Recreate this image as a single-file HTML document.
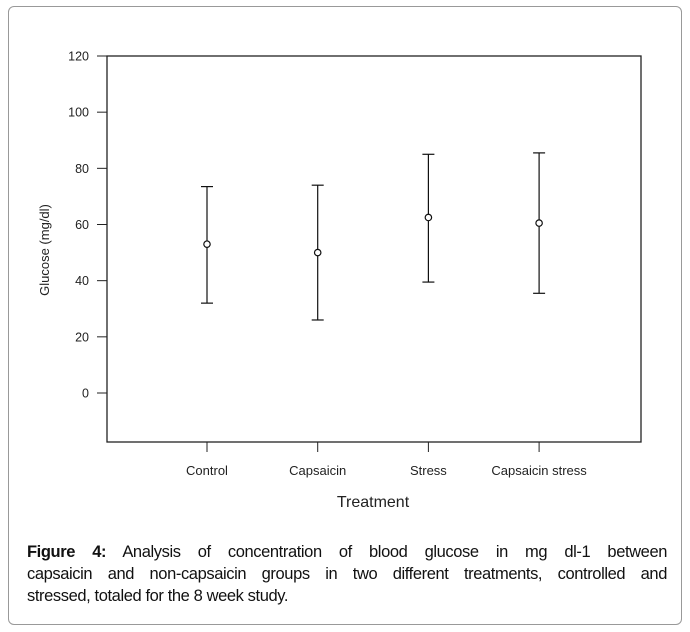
<!DOCTYPE html>
<html><head><meta charset="utf-8"><style>
body{margin:0;width:690px;height:632px;background:#fff;font-family:"Liberation Sans",sans-serif;overflow:hidden}
#frame{position:absolute;left:8px;top:6px;width:672px;height:617px;border:1px solid #999;border-radius:6px}
#cap{position:absolute;left:27px;top:541px;width:640px;font-size:16.5px;line-height:22px;color:#111;letter-spacing:-0.4px}
#cap .j{display:block;white-space:nowrap;text-align:justify;text-align-last:justify}
#cap .l{display:block;white-space:nowrap}
</style></head><body>
<div id="frame"></div>
<svg id="chart" width="690" height="540" style="position:absolute;left:0;top:0" font-family="Liberation Sans, sans-serif"></svg>
<div id="cap"><span class="j"><b>Figure 4:</b> Analysis of concentration of blood glucose in mg dl-1 between</span><span class="j">capsaicin and non-capsaicin groups in two different treatments, controlled and</span><span class="l">stressed, totaled for the 8 week study.</span></div>
<script>
const categories=["Control","Capsaicin","Stress","Capsaicin stress"];
const means=[53,50,62.5,60.5];
const lows=[32,26,39.5,35.5];
const highs=[73.5,74,85,85.5];
const yTicks=[0,20,40,60,80,100,120];
const NS="http://www.w3.org/2000/svg";
const svg=document.getElementById('chart');
const L=107,R=641,T=56,B=442;
const y=v=>393-(v/120)*(393-T);
const x=i=>207+i*110.7;
function mk(t,a){const e=document.createElementNS(NS,t);for(const k in a)e.setAttribute(k,a[k]);svg.appendChild(e);return e;}
const box=mk('rect',{x:L,y:T,width:R-L,height:B-T,fill:'none',stroke:'#222','stroke-width':1.3});


yTicks.forEach(v=>{
 const tk=mk('line',{x1:97,x2:L,y1:y(v),y2:y(v),stroke:'#222'});
 
 
 const lb=mk('text',{x:89,y:y(v)+4.5,'text-anchor':'end','font-size':12.5,fill:'#222'});
 lb.textContent=v;
 
 
});
categories.forEach((c,i)=>{
 const tk=mk('line',{x1:x(i),x2:x(i),y1:B,y2:B+10,stroke:'#222'});
 
 
 const lb=mk('text',{x:x(i),y:475,'text-anchor':'middle','font-size':13,fill:'#222'});
 lb.textContent=c;
 
 
 const g=document.createElementNS(NS,'g');svg.appendChild(g);
 
 
 const add=(t,a)=>{const e=document.createElementNS(NS,t);for(const k in a)e.setAttribute(k,a[k]);g.appendChild(e);};
 add('line',{x1:x(i),x2:x(i),y1:y(highs[i]),y2:y(lows[i]),stroke:'#111','stroke-width':1.2});
 add('line',{x1:x(i)-6,x2:x(i)+6,y1:y(highs[i]),y2:y(highs[i]),stroke:'#111','stroke-width':1.2});
 add('line',{x1:x(i)-6,x2:x(i)+6,y1:y(lows[i]),y2:y(lows[i]),stroke:'#111','stroke-width':1.2});
 add('circle',{cx:x(i),cy:y(means[i]),r:3.2,fill:'#fff',stroke:'#111','stroke-width':1.2});
});
const xt=mk('text',{x:373,y:507,'text-anchor':'middle','font-size':16,fill:'#222'});
xt.textContent='Treatment';


const yt=mk('text',{x:0,y:0,'text-anchor':'middle','font-size':13,fill:'#222',transform:'translate(49,250) rotate(-90)'});
yt.textContent='Glucose (mg/dl)';


</script>
</body></html>
